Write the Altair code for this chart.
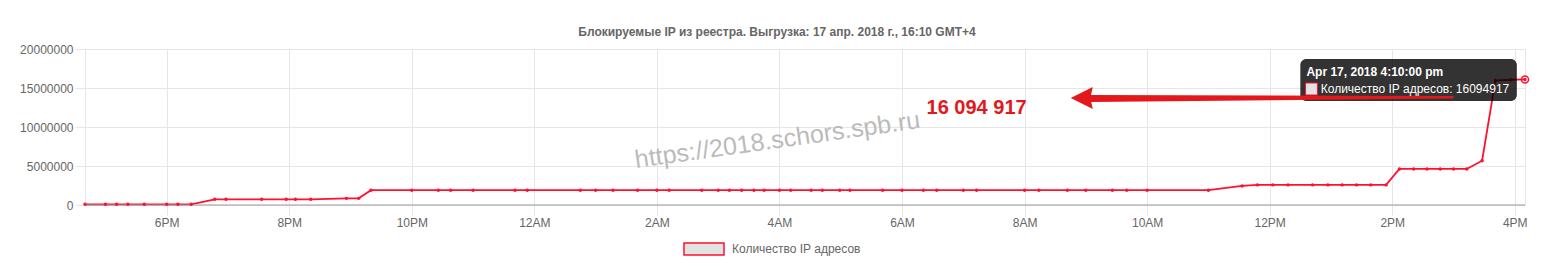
import altair as alt
import pandas as pd

# ---------------- data ----------------
times = [
    "2018-04-16T16:40", "2018-04-16T17:00", "2018-04-16T17:11", "2018-04-16T17:22",
    "2018-04-16T17:38", "2018-04-16T18:00", "2018-04-16T18:11", "2018-04-16T18:24",
    "2018-04-16T18:47", "2018-04-16T18:58", "2018-04-16T19:33", "2018-04-16T19:57",
    "2018-04-16T20:06", "2018-04-16T20:21", "2018-04-16T20:56", "2018-04-16T21:08",
    "2018-04-16T21:20", "2018-04-16T22:00", "2018-04-16T22:26", "2018-04-16T22:38",
    "2018-04-16T23:00", "2018-04-16T23:41", "2018-04-16T23:53",
    "2018-04-17T00:45", "2018-04-17T01:00", "2018-04-17T01:17", "2018-04-17T01:41",
    "2018-04-17T02:00", "2018-04-17T02:12", "2018-04-17T02:44", "2018-04-17T03:00",
    "2018-04-17T03:11", "2018-04-17T03:23", "2018-04-17T03:35", "2018-04-17T03:45",
    "2018-04-17T04:00", "2018-04-17T04:11", "2018-04-17T04:31", "2018-04-17T04:42",
    "2018-04-17T04:59", "2018-04-17T05:09", "2018-04-17T05:41", "2018-04-17T06:00",
    "2018-04-17T06:21", "2018-04-17T06:34", "2018-04-17T07:00", "2018-04-17T07:13",
    "2018-04-17T08:00", "2018-04-17T08:14", "2018-04-17T08:42", "2018-04-17T09:00",
    "2018-04-17T09:26", "2018-04-17T09:40", "2018-04-17T10:00", "2018-04-17T11:00",
    "2018-04-17T11:33", "2018-04-17T11:48", "2018-04-17T12:03", "2018-04-17T12:18",
    "2018-04-17T12:42", "2018-04-17T12:57", "2018-04-17T13:11", "2018-04-17T13:25",
    "2018-04-17T13:39", "2018-04-17T13:54", "2018-04-17T14:07", "2018-04-17T14:21",
    "2018-04-17T14:34", "2018-04-17T14:47", "2018-04-17T15:00", "2018-04-17T15:13",
    "2018-04-17T15:28", "2018-04-17T15:41", "2018-04-17T15:56", "2018-04-17T16:10",
]
values = (
    [90000] * 8
    + [730000] * 6
    + [850000] * 2
    + [1900000] * 39
    + [2440000]
    + [2580000] * 9
    + [4620000] * 6
    + [5680000, 15950000, 16060000, 16094917]
)
series_name = "Количество IP адресов"
title_text = "Блокируемые IP из реестра. Выгрузка: 17 апр. 2018 г., 16:10 GMT+4"
x_tick_times = [
    "2018-04-16T18:00", "2018-04-16T20:00", "2018-04-16T22:00", "2018-04-17T00:00",
    "2018-04-17T02:00", "2018-04-17T04:00", "2018-04-17T06:00", "2018-04-17T08:00",
    "2018-04-17T10:00", "2018-04-17T12:00", "2018-04-17T14:00", "2018-04-17T16:00",
]
y_ticks = [0, 5000000, 10000000, 15000000, 20000000]

tooltip_title = "Apr 17, 2018 4:10:00 pm"
tooltip_body = "Количество IP адресов: 16094917"
big_label = "16 094 917"
watermark = "https://2018.schors.spb.ru"


def dt(s):
    d, t = s.split("T")
    y, m, dd = (int(v) for v in d.split("-"))
    hh, mm = (int(v) for v in t.split(":"))
    return alt.DateTime(year=y, month=m, date=dd, hours=hh, minutes=mm)


df = pd.DataFrame({"t": times, "v": values, "s": series_name})
last = df.tail(1)

FONT = "Liberation Sans"
RED = "#ff1030"
ARROW = "#e3181a"

xscale = alt.Scale(domain=[dt(times[0]), dt(times[-1])], nice=False)
yscale = alt.Scale(domain=[0, 20000000], nice=False)

x_enc = alt.X(
    "t:T", scale=xscale, title=None,
    axis=alt.Axis(
        values=[dt(s) for s in x_tick_times],
        labelExpr="timeFormat(datum.value, '%-I%p')",
        grid=True, tickSize=10, labelPadding=2, labelFlush=False,
        labelOverlap=False, domain=False,
    ),
)
y_enc = alt.Y(
    "v:Q", scale=yscale, title=None,
    axis=alt.Axis(values=y_ticks, format="d", grid=True, tickSize=10,
                  labelPadding=2, domain=False, labelOverlap=False, labelFlush=False),
)

base = alt.Chart(df)

line = base.mark_line(strokeWidth=1.8).encode(
    x=x_enc, y=y_enc,
    color=alt.Color(
        "s:N", scale=alt.Scale(range=[RED]), title=None,
        legend=alt.Legend(
            orient="none", legendX=598, legendY=179, direction="horizontal",
            symbolType="M-1,-0.3L1,-0.3L1,0.3L-1,0.3Z", symbolSize=1600,
            symbolFillColor="#e3e3e3", symbolStrokeColor=RED, symbolStrokeWidth=1.5,
            labelFont=FONT, labelFontSize=12, labelColor="#666", labelOffset=7,
            padding=0,
        ),
    ),
)
points = base.mark_point(filled=True, shape="circle", size=12, color=RED, opacity=1).encode(
    x=x_enc, y=y_enc
)

zero = alt.Chart(pd.DataFrame({"v": [0]})).mark_rule(color="#999", strokeWidth=1).encode(y=y_enc)

# tooltip (data-anchored)
tip_box = alt.Chart(pd.DataFrame({
    "t": ["2018-04-17T12:30"], "t2": ["2018-04-17T16:02"],
    "v": [18720000], "v2": [13330000],
})).mark_rect(color="#000", opacity=0.8, cornerRadius=6).encode(
    x=x_enc, x2="t2:T", y=y_enc, y2="v2:Q"
)
tip_title = alt.Chart(pd.DataFrame({"t": ["2018-04-17T12:36"], "v": [16990000], "txt": [tooltip_title]})).mark_text(
    align="left", baseline="middle", font=FONT, fontSize=12, fontWeight="bold", color="#fff"
).encode(x=x_enc, y=y_enc, text="txt:N")
tip_sq = alt.Chart(pd.DataFrame({"t": ["2018-04-17T12:41"], "v": [14870000]})).mark_point(
    shape="square", size=144, filled=True, fill="#e3e3e3", stroke=RED, strokeWidth=1, opacity=1
).encode(x=x_enc, y=y_enc)
tip_body = alt.Chart(pd.DataFrame({"t": ["2018-04-17T12:50"], "v": [14870000], "txt": [tooltip_body]})).mark_text(
    align="left", baseline="middle", font=FONT, fontSize=12, color="#fff"
).encode(x=x_enc, y=y_enc, text="txt:N")

# arrow
shaft = alt.Chart(pd.DataFrame({
    "t": ["2018-04-17T09:04", "2018-04-17T14:59"],
    "v": [13650000, 13810000],
    "w": [7, 2.5],
})).mark_trail(color=ARROW).encode(
    x=x_enc, y=y_enc, size=alt.Size("w:Q", scale=None, legend=None)
)
head = alt.Chart(pd.DataFrame({"t": ["2018-04-17T08:56"], "v": [13720000]})).mark_point(
    shape="M-1,0L1,-1L0.78,0L1,1Z", size=484, filled=True, color=ARROW, opacity=1
).encode(x=x_enc, y=y_enc)
big = alt.Chart(pd.DataFrame({"t": ["2018-04-17T06:24"], "v": [12470000], "txt": [big_label]})).mark_text(
    align="left", baseline="middle", font=FONT, fontSize=20, fontWeight="bold", color=ARROW
).encode(x=x_enc, y=y_enc, text="txt:N")
wm = alt.Chart(pd.DataFrame({"t": ["2018-04-17T03:58"], "v": [8330000], "txt": [watermark]})).mark_text(
    align="center", baseline="middle", font=FONT, fontSize=25, color="#bbb", angle=352
).encode(x=x_enc, y=y_enc, text="txt:N")

hover = alt.Chart(last).mark_point(shape="circle", size=50, filled=False, color=RED,
                                   strokeWidth=1.5, opacity=1).encode(x=x_enc, y=y_enc)

chart = alt.layer(
    line, zero, wm, points, tip_box, shaft, head, tip_sq, tip_title, tip_body, big, hover
).properties(
    width=1440, height=156,
    padding={"left": 85, "top": 49, "right": 22, "bottom": 65},
    autosize=alt.AutoSizeParams(type="none"),
    title=alt.TitleParams(
        text=title_text, font=FONT, fontSize=12, fontWeight="bold", color="#666",
        anchor="middle", dx=-28, offset=-5, baseline="alphabetic",
    ),
).configure_view(stroke="#e6e6e6").configure_axis(
    gridColor="#e6e6e6", tickColor="#e6e6e6", labelFont=FONT, labelFontSize=12,
    labelColor="#666",
)

chart.save("out.html", embed_options={"renderer": "svg", "actions": False})
